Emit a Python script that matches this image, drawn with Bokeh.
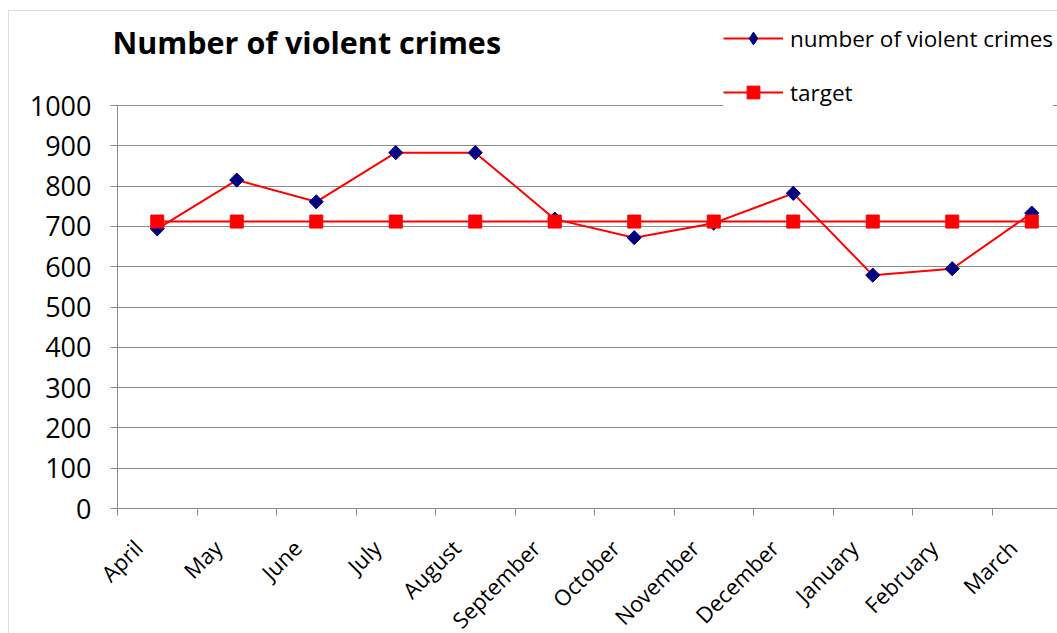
from math import pi

from bokeh.embed import file_html
from bokeh.models import (BoxAnnotation, FixedTicker, Label, Legend,
                          LegendItem, Range1d)
from bokeh.plotting import figure
from bokeh.resources import INLINE

# Monthly counts over the financial year, with the fixed target level
months = ["April", "May", "June", "July", "August", "September", "October",
          "November", "December", "January", "February", "March"]
violent_crimes = [694, 815, 761, 883, 883, 718, 672, 708, 782, 579, 595, 733]
target = [712] * len(months)
y_ticks = [0, 100, 200, 300, 400, 500, 600, 700, 800, 900, 1000]

FONT = "Open Sans"
GRID = "#8c8c8c"
W, H = 1057, 633

# plot-area placement on the canvas (pixels) and its scale
AX_X, AX_Y = 117, 508          # where x=0 / y=0 fall
PX_PER_CAT, PX_PER_UNIT = 79.5, 0.403


def dx(px):
    return (px - AX_X) / PX_PER_CAT


def dy(py):
    return (AX_Y - py) / PX_PER_UNIT


# category centres sit half-way between the tick marks
xs = [i + 0.5 for i in range(len(months))]
n_cat = len(months)

p = figure(width=W, height=H, output_backend="svg", toolbar_location=None,
           title=None,
           x_range=Range1d(dx(0), dx(W)), y_range=Range1d(dy(H), dy(0)),
           min_border_left=0, min_border_right=0,
           min_border_top=0, min_border_bottom=0,
           background_fill_color="white", border_fill_color="white")
p.outline_line_color = None

# axes drawn through the origin of the plot area
p.xaxis.fixed_location = 0
p.xaxis.bounds = (0, n_cat + 1)
p.xaxis.ticker = FixedTicker(ticks=[x - 0.24 for x in xs],
                             minor_ticks=list(range(n_cat + 1)))
p.xaxis.major_label_overrides = {x - 0.24: m for x, m in zip(xs, months)}
p.xaxis.major_label_orientation = pi / 4
p.xaxis.major_tick_out = 0
p.xaxis.major_tick_in = 0
p.xaxis.minor_tick_out = 7
p.xaxis.minor_tick_in = 0
p.xaxis.minor_tick_line_color = GRID
p.xaxis.axis_line_color = GRID
p.xaxis.major_label_text_font = FONT
p.xaxis.major_label_text_font_size = "22px"
p.xaxis.major_label_text_color = "black"
p.xaxis.major_label_standoff = 28

p.yaxis.fixed_location = 0
p.yaxis.bounds = (0, 1000)
p.yaxis.ticker = FixedTicker(ticks=y_ticks)
p.yaxis.major_tick_out = 7
p.yaxis.major_tick_in = 0
p.yaxis.minor_tick_line_color = None
p.yaxis.major_tick_line_color = GRID
p.yaxis.axis_line_color = GRID
p.yaxis.major_label_text_font = FONT
p.yaxis.major_label_text_font_size = "27px"
p.yaxis.major_label_text_color = "black"
p.yaxis.major_label_standoff = 19

p.xgrid.grid_line_color = None
p.ygrid.ticker = FixedTicker(ticks=y_ticks)
p.ygrid.grid_line_color = GRID
p.ygrid.grid_line_width = 1
p.ygrid.cross_bounds = (0, n_cat + 1)

# series: crimes first, target drawn on top
crime_line = p.line(xs, violent_crimes, line_color="red", line_width=2)
# upright diamond shape used for the legend key; sits inside the plotted markers
crime_key = p.scatter(xs, violent_crimes, marker="diamond", size=13,
                      fill_color="#000080", line_color="#000080")
crime_pts = p.scatter(xs, violent_crimes, marker="square", angle=pi / 4,
                      size=10, fill_color="#000080", line_color="#000080")
target_line = p.line(xs, target, line_color="red", line_width=2)
target_pts = p.scatter(xs, target, marker="square", size=13,
                       fill_color="red", line_color="red")

# borderless legend: its box hugs the entries, leaving the chart border clear
legend = Legend(items=[
    LegendItem(label="number of violent crimes", renderers=[crime_line, crime_key]),
    LegendItem(label="target", renderers=[target_line, target_pts]),
], location=(723, H - 108))
legend.glyph_width = 60
legend.glyph_height = 32
legend.label_height = 20
legend.label_standoff = 7
legend.spacing = 22
legend.padding = 16
legend.margin = 0
legend.border_line_color = None
legend.background_fill_color = "white"
legend.background_fill_alpha = 1
legend.label_text_font = FONT
legend.label_text_font_size = "22.5px"
legend.label_text_color = "black"
p.add_layout(legend, "center")

# chart title
p.add_layout(Label(x=dx(112), y=dy(41), text="Number of violent crimes",
                   text_font=FONT, text_font_style="bold",
                   text_font_size="30.5px", text_baseline="alphabetic",
                   text_color="black"))

# outer chart border (its right and bottom edges run past the canvas)
p.add_layout(BoxAnnotation(left=dx(8), right=dx(W + 20), top=dy(10),
                           bottom=dy(H + 20), fill_alpha=0, line_color=GRID,
                           line_width=1, level="overlay"))

open("out.html", "w").write(file_html(p, INLINE))
